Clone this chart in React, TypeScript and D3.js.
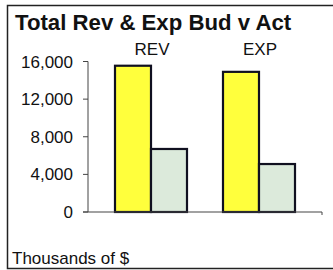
import * as React from "react";
import * as d3 from "d3";

const categories = ["REV", "EXP"];
const seriesNames = ["Budget", "Actual"];
const budget = [15550, 14900];
const actual = [6700, 5100];
const yTicks = [0, 4000, 8000, 12000, 16000];

const colors = ["#ffff3c", "#dceadb"];

export default function App() {
  const width = 333;
  const height = 270;
  const font = '"Liberation Sans", Arial, sans-serif';

  const x = d3.scaleBand<string>().domain(categories).range([97, 313]).paddingInner(0).paddingOuter(0);
  const inner = d3
    .scaleBand<string>()
    .domain(seriesNames)
    .range([0, x.bandwidth()])
    .paddingOuter(0.5)
    .paddingInner(0);
  const y = d3.scaleLinear().domain([0, 16000]).range([212, 61.5]);
  const fmt = d3.format(",");

  const rows = categories.map((c, i) => ({ cat: c, vals: [budget[i], actual[i]] }));

  return (
    <svg
      width={width}
      height={height}
      style={{ position: "absolute", left: 0, top: 0, background: "#fff" }}
      fontFamily={font}
    >
      {/* frame */}
      <rect x={7.5} y={5.5} width={340} height={263} fill="#fff" stroke="#222" strokeWidth={1.5} />
      <text x={15} y={30} fontSize={22.2} fontWeight="bold" fill="#111">
        Total Rev &amp; Exp Bud v Act
      </text>

      {/* y axis */}
      <line x1={88} x2={88} y1={y(16000)} y2={y(0)} stroke="#444" strokeWidth={1} />
      {yTicks.map((t) => (
        <g key={t}>
          <line x1={83} x2={88} y1={y(t)} y2={y(t)} stroke="#444" strokeWidth={1} />
          <text x={73} y={y(t)} dy="0.36em" textAnchor="end" fontSize={17} fill="#111">
            {fmt(t)}
          </text>
        </g>
      ))}

      {/* bars */}
      {rows.map((r) => (
        <g key={r.cat} transform={`translate(${x(r.cat)},0)`}>
          {r.vals.map((v, j) => (
            <rect
              key={j}
              x={inner(seriesNames[j])}
              y={y(v)}
              width={inner.bandwidth()}
              height={y(0) - y(v)}
              fill={colors[j]}
              stroke="#101020"
              strokeWidth={2.2}
            />
          ))}
          <text x={x.bandwidth() / 2 + 1} y={55} textAnchor="middle" fontSize={17} fill="#111">
            {r.cat}
          </text>
        </g>
      ))}

      {/* x axis */}
      <line x1={83} x2={322} y1={y(0)} y2={y(0)} stroke="#444" strokeWidth={1.2} />
      <line x1={322} x2={322} y1={y(0)} y2={y(0) + 3} stroke="#444" strokeWidth={1} />

      <text x={12} y={264} fontSize={17} fill="#111">
        Thousands of $
      </text>
    </svg>
  );
}
